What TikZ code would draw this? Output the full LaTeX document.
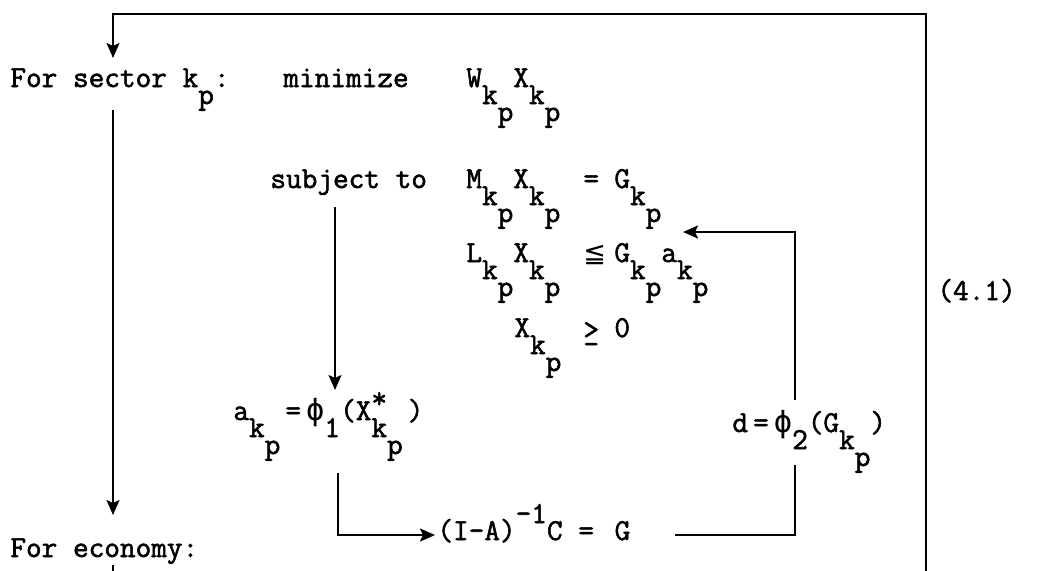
\documentclass[tikz,border=0pt]{standalone}
\usepackage{fontspec}
\newfontfamily\tw{Latin Modern Mono}[FakeBold=1.8]
\newfontfamily\symf{DejaVu Sans}
\newfontfamily\grf{DejaVu Sans Mono}
\usetikzlibrary{arrows.meta}
\newcommand\lo[1]{\raisebox{-8.5pt}{#1}}
\newcommand\llo[1]{\raisebox{-17pt}{#1}}
\newcommand\hi[1]{\raisebox{8.5pt}{#1}}
\begin{document}
\begin{tikzpicture}[x=0.5pt,y=-0.5pt,
  txt/.style={anchor=base west, inner sep=0pt, font=\tw\fontsize{15.2}{17}\selectfont},
  link/.style={line width=1pt},
  arr/.style={link, -{Stealth[length=7.5pt,width=6.5pt,inset=1.5pt]}}]
\fill[white] (0,0) rectangle (1052,570);
\useasboundingbox (0,0) rectangle (1052,570);

% texts
\node[txt] (sec) at (10,87) {For sector k\lo{p}:};
\node[txt] (min) at (283,87) {minimize};
\node[txt] (obj) at (466,87) {W\lo{k}\llo{p}X\lo{k}\llo{p}};
\node[txt] (st) at (270,188) {subject to};
\node[txt] (c1l) at (466,188) {M\lo{k}\llo{p}X\lo{k}\llo{p}};
\node[txt] (c1m) at (583,188) {=};
\node[txt] (c1r) at (614,188) {G\lo{k}\llo{p}};
\node[txt] (c2l) at (466,262) {L\lo{k}\llo{p}X\lo{k}\llo{p}};
\node[txt] (c2m) at (583,262) {{\symf\fontsize{13.5}{15}\selectfont ≦}};
\node[txt] (c2r) at (614,262) {G\lo{k}\llo{p}a\lo{k}\llo{p}};
\node[txt] (c3l) at (514,337) {X\lo{k}\llo{p}};
\node[txt] (c3m) at (583,337) {\rlap{\raisebox{-1pt}{>}}\raisebox{-1pt}{\_}};
\node[txt] (c3r) at (614,337) {0};
\node[txt] (eqn) at (937,300) {(4.1)};
\node[txt] (ak) at (233,420) {a\lo{k}\llo{p}\,=\,{\grf ϕ}\lo{1}(X\rlap{\raisebox{6pt}{*}}\lo{k}\llo{p}\,)};
\node[txt] (dd) at (732,432) {d\,=\,{\grf ϕ}\lo{2}(G\lo{k}\llo{p})};
\node[txt] (econ) at (10,557) {For economy:};
\node[txt] (inv) at (437,540) {(I-A)\hi{-1}C\ =\ \,G};

% connector points
\coordinate (rb) at (926,572);
\coordinate (rt) at (926,14);
\coordinate (lt) at (113,14);
\coordinate (secin) at (113,58);
\coordinate (secout) at (113,110);
\coordinate (econin) at (113,515);
\coordinate (econout) at (113,565);
\coordinate (econend) at (113,572);
\coordinate (stout) at (335,207);
\coordinate (akin) at (335,390);
\coordinate (akout) at (338,473);
\coordinate (akc) at (338,535);
\coordinate (invin) at (435,535);
\coordinate (invout) at (675,535);
\coordinate (dc) at (795,535);
\coordinate (din) at (795,465);
\coordinate (dout) at (795,400);
\coordinate (cc) at (795,232);
\coordinate (cin) at (683,232);

% connectors
\draw[arr] (rb) -- (rt) -- (lt) -- (secin);
\draw[arr] (secout) -- (econin);
\draw[link] (econout) -- (econend);
\draw[arr] (stout) -- (akin);
\draw[arr] (akout) -- (akc) -- (invin);
\draw[link] (invout) -- (dc) -- (din);
\draw[arr] (dout) -- (cc) -- (cin);
\end{tikzpicture}
\end{document}
